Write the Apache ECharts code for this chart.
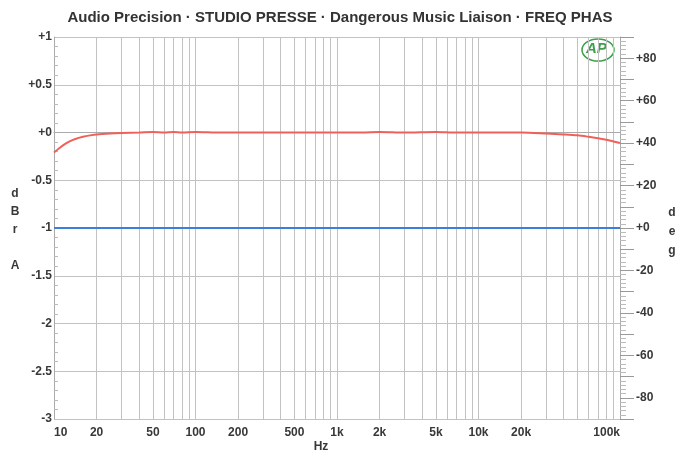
<!DOCTYPE html>
<html>
<head>
<meta charset="utf-8">
<script src="https://cdn.jsdelivr.net/npm/echarts@6/dist/echarts.min.js"></script>
<style>
  html, body { margin: 0; padding: 0; background: #fff; }
  #chart { width: 680px; height: 455px; }
</style>
</head>
<body>
<div id="chart"></div>
<script>
// amplitude (dBr A) vs frequency
const ampFreq = [10, 11, 12, 13, 14, 16, 18, 20, 25, 30, 40, 50, 60, 70, 80, 100, 150, 200, 300, 500, 1000, 1500, 2000, 3000, 5000, 7000, 10000, 15000, 20000, 30000, 40000, 50000, 60000, 70000, 80000, 100000];
const ampDbr = [-0.21, -0.16, -0.12, -0.09, -0.07, -0.045, -0.03, -0.02, -0.01, -0.005, 0, 0.006, 0, 0.006, 0, 0.006, 0, 0, 0, 0, 0, 0, 0.006, 0, 0.006, 0, 0, 0, 0, -0.01, -0.02, -0.03, -0.045, -0.06, -0.075, -0.11];
// phase (deg) vs frequency
const phaseFreq = [10, 100, 1000, 10000, 100000];
const phaseDeg = [0, 0, 0, 0, 0];
// x grid lines and labels
const xGrid = [10, 20, 30, 40, 50, 60, 70, 80, 90, 100, 200, 300, 400, 500, 600, 700, 800, 900, 1000, 2000, 3000, 4000, 5000, 6000, 7000, 8000, 9000, 10000, 20000, 30000, 40000, 50000, 60000, 70000, 80000, 90000, 100000];
const xLabels = [10, 20, 50, 100, 200, 500, 1000, 2000, 5000, 10000, 20000, 100000];

const font = "Liberation Sans, Arial, sans-serif";
const textColor = "#383838";
const chart = echarts.init(document.getElementById("chart"));

function hz(v) {
  return v >= 1000 ? v / 1000 + "k" : String(v);
}
function signed(v) {
  return v >= 0 ? "+" + v : String(v);
}

chart.setOption({
  animation: false,
  title: {
    text: "Audio Precision · STUDIO PRESSE · Dangerous Music Liaison · FREQ PHAS",
    left: 335,
    textAlign: "center",
    top: 5,
    textStyle: { fontFamily: font, fontSize: 15, fontWeight: "bold", color: "#333" },
  },
  grid: { left: 54, right: 60, top: 37, bottom: 36 },
  xAxis: {
    type: "log",
    logBase: 10,
    min: 10,
    max: 100000,
    axisLine: { show: true, lineStyle: { color: "#aaa" } },
    axisTick: { show: false, customValues: xGrid },
    splitLine: { show: true, lineStyle: { color: "#c2c2c2", width: 1 } },
    axisLabel: {
      customValues: xLabels,
      formatter: hz,
      margin: 8,
      alignMinLabel: "left",
      alignMaxLabel: "right",
      fontFamily: font,
      fontSize: 12,
      fontWeight: "bold",
      color: textColor,
    },
  },
  yAxis: [
    {
      type: "value",
      min: -3,
      max: 1,
      interval: 0.5,
      axisLine: { show: true, lineStyle: { color: "#aaa" } },
      axisTick: { show: false, inside: true },
      minorTick: { show: true, splitNumber: 5, length: 4, lineStyle: { color: "#bbb" } },
      splitLine: { show: true, lineStyle: { color: "#c2c2c2" } },
      axisLabel: { formatter: signed, margin: 2, fontFamily: font, fontSize: 12, fontWeight: "bold", color: textColor },
    },
    {
      type: "value",
      min: -90,
      max: 90,
      interval: 10,
      position: "right",
      axisLine: { show: true, lineStyle: { color: "#aaa" } },
      axisTick: { show: true, length: 14, lineStyle: { color: "#999" } },
      minorTick: { show: true, splitNumber: 5, length: 6, lineStyle: { color: "#bbb" } },
      splitLine: { show: false },
      axisLabel: {
        formatter: (v) => (v % 20 === 0 ? signed(v) : ""),
        margin: 16,
        fontFamily: font,
        fontSize: 12,
        fontWeight: "bold",
        color: textColor,
      },
    },
  ],
  graphic: [
    {
      type: "text",
      x: 15,
      y: 185,
      style: { text: "d\nB\nr\n\nA", fontFamily: font, fontSize: 12, fontWeight: "bold", lineHeight: 18, fill: textColor, align: "center" },
    },
    {
      type: "text",
      x: 672,
      y: 203,
      style: { text: "d\ne\ng", fontFamily: font, fontSize: 12, fontWeight: "bold", lineHeight: 19, fill: textColor, align: "center" },
    },
    {
      type: "text",
      x: 321,
      y: 441,
      style: { text: "Hz", fontFamily: font, fontSize: 12, fontWeight: "bold", fill: textColor, align: "center" },
    },
    {
      type: "ellipse",
      shape: { cx: 598, cy: 50, rx: 16, ry: 11 },
      style: { fill: "none", stroke: "#3aa04a", lineWidth: 1.5 },
    },
    {
      type: "text",
      x: 586,
      y: 41,
      style: { text: "AP", fontFamily: font, fontSize: 15, fontStyle: "italic", fontWeight: "bold", fill: "#3aa04a" },
    },
  ],
  series: [
    {
      name: "amplitude",
      type: "line",
      yAxisIndex: 0,
      showSymbol: false,
      smooth: 0.3,
      data: ampFreq.map((f, i) => [f, ampDbr[i]]),
      lineStyle: { color: "#f0605a", width: 2 },
      z: 3,
    },
    {
      name: "phase",
      type: "line",
      yAxisIndex: 1,
      showSymbol: false,
      data: phaseFreq.map((f, i) => [f, phaseDeg[i]]),
      lineStyle: { color: "#3c7fd6", width: 2 },
      z: 4,
    },
  ],
});
</script>
</body>
</html>
